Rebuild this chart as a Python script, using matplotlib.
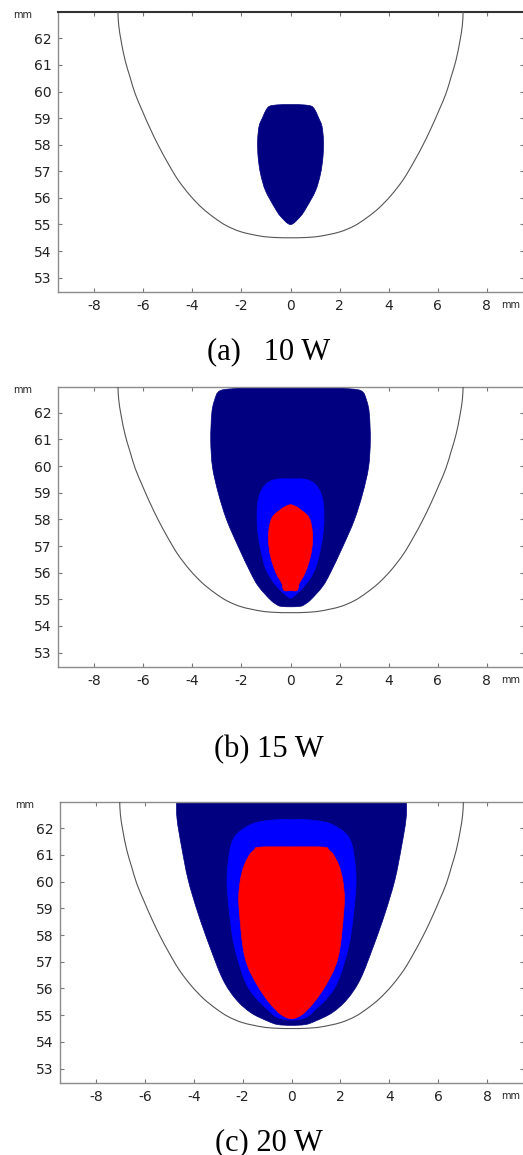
import numpy as np
import matplotlib
matplotlib.use("Agg")
import matplotlib.pyplot as plt
from matplotlib.path import Path
from matplotlib.patches import PathPatch

# Domain boundary (half-width in mm vs height in mm), same for every panel
boundary_y = [54.5, 54.51, 54.56, 54.72, 54.95, 55.25, 55.62, 56.1, 56.7, 57.35,
              58.0, 58.65, 59.3, 59.92, 60.55, 61.18, 61.9, 62.5, 63.0, 63.4]
boundary_hw = [0.0, 0.6, 1.2, 2.0, 2.6, 3.1, 3.6, 4.1, 4.6, 5.02,
               5.4, 5.74, 6.05, 6.33, 6.54, 6.74, 6.9, 7.0, 7.03, 7.05]

# (a) 10 W
a_navy_y = [55.0, 55.3, 55.64, 56.27, 56.9, 57.53, 58.16, 58.7, 59.04, 59.3, 59.45, 59.5, 59.51]
a_navy_hw = [0.0, 0.4, 0.65, 1.02, 1.22, 1.32, 1.34, 1.28, 1.13, 1.0, 0.85, 0.5, 0.0]

# (b) 15 W
b_navy_y = [54.72, 54.74, 54.8, 54.99, 55.49, 55.99, 56.98, 57.98, 58.98, 59.97,
            60.97, 61.96, 62.46, 62.83, 62.96, 63.3]
b_navy_hw = [0.0, 0.4, 0.56, 0.83, 1.31, 1.62, 2.13, 2.6, 2.94, 3.18,
             3.25, 3.21, 3.1, 2.87, 2.06, 1.8]
b_blue_y = [55.05, 55.09, 55.36, 55.74, 56.23, 56.98, 57.73, 58.48, 58.98, 59.35, 59.51, 59.52]
b_blue_hw = [0.0, 0.1, 0.43, 0.77, 1.04, 1.24, 1.35, 1.35, 1.24, 0.97, 0.56, 0.0]
b_red_y = [55.33, 55.34, 55.61, 55.99, 56.61, 57.23, 57.73, 58.1, 58.35, 58.48, 58.55]
b_red_hw = [0.0, 0.27, 0.36, 0.59, 0.81, 0.9, 0.86, 0.73, 0.43, 0.22, 0.0]

# (c) 20 W
c_navy_y = [54.62, 54.65, 54.78, 55.09, 55.59, 56.34, 57.58, 58.83, 60.07, 61.31, 62.31, 62.98, 63.3]
c_navy_hw = [0.0, 0.57, 0.98, 1.66, 2.27, 2.81, 3.35, 3.83, 4.23, 4.5, 4.68, 4.71, 4.72]
c_blue_y = [54.82, 54.91, 55.21, 55.71, 56.34, 57.58, 58.83, 60.07, 61.07, 61.56, 61.87, 62.19, 62.31, 62.32]
c_blue_hw = [0.0, 0.57, 0.98, 1.52, 1.93, 2.34, 2.54, 2.64, 2.54, 2.4, 2.13, 1.52, 0.71, 0.0]
c_red_y = [54.87, 55.03, 55.47, 56.09, 56.83, 57.58, 58.83, 59.45, 60.07, 60.57, 61.0, 61.19, 61.29, 61.3]
c_red_hw = [0.0, 0.44, 0.91, 1.38, 1.79, 1.99, 2.13, 2.16, 2.09, 1.95, 1.72, 1.52, 1.32, 0.0]

titles = ["(a)   10 W", "(b) 15 W", "(c) 20 W"]
x_ticks = [-8, -6, -4, -2, 0, 2, 4, 6, 8]
y_ticks = [53, 54, 55, 56, 57, 58, 59, 60, 61, 62]

NAVY = "#000080"
BLUE = "#0000ff"
RED = "#ff0000"


def smooth_path(pts, closed):
    # Catmull-Rom curve through the read points, drawn as cubic Bezier segments
    pts = np.asarray(pts, dtype=float)
    n = len(pts)
    verts = [pts[0]]
    codes = [Path.MOVETO]
    nseg = n if closed else n - 1
    for k in range(nseg):
        if closed:
            p0, p1, p2, p3 = pts[(k - 1) % n], pts[k], pts[(k + 1) % n], pts[(k + 2) % n]
        else:
            p0 = pts[max(k - 1, 0)]
            p1 = pts[k]
            p2 = pts[k + 1]
            p3 = pts[min(k + 2, n - 1)]
        verts += [p1 + (p2 - p0) / 6, p2 - (p3 - p1) / 6, p2]
        codes += [Path.CURVE4] * 3
    if closed:
        verts.append(pts[0])
        codes.append(Path.CLOSEPOLY)
    return Path(verts, codes)


def outline(ys, hws):
    ys = np.asarray(ys, dtype=float)
    hws = np.asarray(hws, dtype=float)
    right = np.column_stack([hws, ys])
    left = np.column_stack([-hws, ys])[::-1]
    pts = list(right)
    if hws[-1] == 0:
        pts += list(left[1:-1])
    else:
        pts += list(left[:-1])
    return pts


W, H = 523, 1155
fig = plt.figure(figsize=(W / 100, H / 100), dpi=100)

# pixel boxes: left, top, bottom
boxes = [(58.3, 12.3, 292.3), (58.3, 386.7, 667.3), (60.3, 802.0, 1083.3)]
title_base = [359, 757, 1150]

regions = [
    [(a_navy_y, a_navy_hw, NAVY)],
    [(b_navy_y, b_navy_hw, NAVY), (b_blue_y, b_blue_hw, BLUE), (b_red_y, b_red_hw, RED)],
    [(c_navy_y, c_navy_hw, NAVY), (c_blue_y, c_blue_hw, BLUE), (c_red_y, c_red_hw, RED)],
]

by = np.array(boundary_y)
bhw = np.array(boundary_hw)
bpts = np.column_stack([np.r_[-bhw[::-1], bhw[1:]], np.r_[by[::-1], by[1:]]])

for i, (left, top, bottom) in enumerate(boxes):
    ax = fig.add_axes([left / W, 1 - bottom / H, (524 - left) / W, (bottom - top) / H])
    for ys, hws, col in regions[i]:
        patch = PathPatch(smooth_path(outline(ys, hws), True), facecolor=col,
                          edgecolor=col, lw=0.5, zorder=2)
        ax.add_patch(patch)

    ax.add_patch(PathPatch(smooth_path(bpts, False), facecolor="none",
                           edgecolor="#555555", lw=0.8, zorder=3))

    ax.set_xlim(-9.46, 9.51)
    ax.set_ylim(52.45, 62.98)
    ax.set_xticks(x_ticks)
    ax.set_yticks(y_ticks)
    ax.set_xticklabels([str(v) for v in x_ticks])
    ax.tick_params(direction="in", length=3, width=0.8, color="#777777",
                   labelsize=10, labelcolor="#222222", top=True, right=True, pad=5)
    for s in ax.spines.values():
        s.set_color("#8c8c8c")
        s.set_linewidth(1.0)
    if i == 0:
        ax.spines["top"].set_color("#333333")
        ax.spines["top"].set_linewidth(1.5)

    # unit labels
    ax.text(-36 / (524 - left), 0.99, "mm", transform=ax.transAxes, fontsize=7,
            color="#222222", ha="center", va="center")
    ax.text((501 - left) / (524 - left), -12.7 / (bottom - top), "mm", transform=ax.transAxes,
            fontsize=7, color="#222222", ha="left", va="center")

    fig.text(269 / W, 1 - title_base[i] / H, titles[i], family="Liberation Serif",
             fontsize=22, ha="center", va="baseline", color="black")

fig.savefig("out.png", dpi=100)
